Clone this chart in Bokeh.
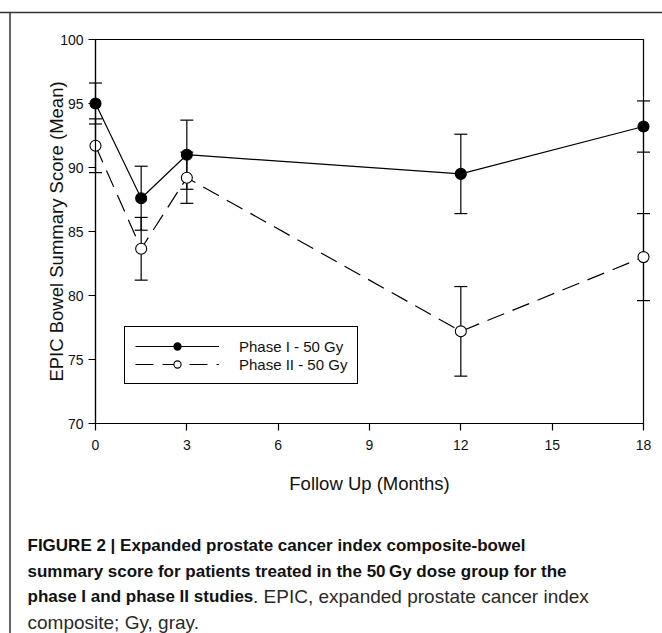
from bokeh.plotting import figure
from bokeh.models import (ColumnDataSource, Whisker, TeeHead, Legend, LegendItem,
                          Label, Arrow, FixedTicker, CustomJS)
from bokeh.document import Document
from bokeh.embed import file_html
from bokeh.resources import INLINE

# ---- data ----
months = [0, 1.5, 3, 12, 18]
phase1_mean = [95.0, 87.6, 91.0, 89.5, 93.2]
phase1_err = [1.6, 2.5, 2.7, 3.1, 2.0]
phase2_mean = [91.7, 83.65, 89.2, 77.2, 83.0]
phase2_err = [2.1, 2.45, 2.0, 3.5, 3.4]
x_ticks = [0, 3, 6, 9, 12, 15, 18]
y_ticks = [70, 75, 80, 85, 90, 95, 100]
series_names = ["Phase I - 50 Gy", "Phase II - 50 Gy"]
x_label = "Follow Up (Months)"
y_label = "EPIC Bowel Summary Score (Mean)"
caption_bold = ["FIGURE 2 | Expanded prostate cancer index composite-bowel",
                "summary score for patients treated in the 50\u2009Gy dose group for the",
                "phase I and phase II studies"]
caption_rest = [". EPIC, expanded prostate cancer index", "composite; Gy, gray."]

FONT = "Liberation Sans"
X0, X1, Y0, Y1 = 0, 18, 70, 100
FRAME_W, FRAME_H = 548, 384
BL, BR, BT, BB = 95, 19, 39, 210

p = figure(width=BL + FRAME_W + BR, height=BT + FRAME_H + BB,
           x_range=(X0, X1), y_range=(Y0, Y1),
           output_backend="svg", toolbar_location=None,
           min_border_left=BL, min_border_right=BR, min_border_top=BT, min_border_bottom=BB)
p.xgrid.visible = False
p.ygrid.visible = False
p.outline_line_color = "black"
p.outline_line_width = 1.2
p.outline_line_alpha = 1.0

# screen offsets (px, from the frame's bottom-left corner) -> data units
def dx(px):
    return X0 + px * (X1 - X0) / FRAME_W
def dy(px):
    return Y0 + px * (Y1 - Y0) / FRAME_H

for ax, ticks in ((p.xaxis[0], x_ticks), (p.yaxis[0], y_ticks)):
    ax.ticker = FixedTicker(ticks=ticks)
    ax.major_tick_in = 0
    ax.major_tick_out = 7
    ax.minor_tick_in = 0
    ax.minor_tick_out = 0
    ax.axis_line_width = 1.2
    ax.axis_line_color = "black"
    ax.major_tick_line_color = "black"
    ax.major_tick_line_width = 1.2
    ax.major_label_text_font = FONT
    ax.major_label_text_font_size = "14px"
    ax.major_label_text_color = "#111111"
    ax.axis_label_text_font = FONT
    ax.axis_label_text_font_size = "18.5px"
    ax.axis_label_text_font_style = "normal"
    ax.axis_label_text_color = "#111111"

p.xaxis.axis_label = x_label
p.yaxis.axis_label = y_label
p.xaxis.major_label_standoff = 9
p.xaxis.axis_label_standoff = 20
p.yaxis.major_label_standoff = 5
p.yaxis.axis_label_standoff = -10

src1 = ColumnDataSource(dict(x=months, y=phase1_mean,
                             lo=[m - e for m, e in zip(phase1_mean, phase1_err)],
                             hi=[m + e for m, e in zip(phase1_mean, phase1_err)]))
src2 = ColumnDataSource(dict(x=months, y=phase2_mean,
                             lo=[m - e for m, e in zip(phase2_mean, phase2_err)],
                             hi=[m + e for m, e in zip(phase2_mean, phase2_err)]))

for src in (src2, src1):
    w = Whisker(source=src, base="x", lower="lo", upper="hi",
                line_color="black", line_width=1.2, level="underlay",
                upper_head=TeeHead(size=13, line_width=1.2, line_color="black"),
                lower_head=TeeHead(size=13, line_width=1.2, line_color="black"))
    p.add_layout(w)

l2 = p.line("x", "y", source=src2, line_color="black", line_width=1.2, line_dash="18 9")
l1 = p.line("x", "y", source=src1, line_color="black", line_width=1.2)
m2 = p.scatter("x", "y", source=src2, size=11, marker="circle",
               fill_color="white", line_color="black", line_width=1.1)
m1 = p.scatter("x", "y", source=src1, size=11, marker="circle",
               fill_color="black", line_color="black", line_width=1.1)

legend = Legend(items=[LegendItem(label=series_names[0], renderers=[l1, m1]),
                       LegendItem(label=series_names[1], renderers=[l2, m2])],
                location=(29, 39), padding=10, spacing=0, margin=0,
                glyph_width=84, glyph_height=18, label_height=18, label_standoff=20,
                label_text_font=FONT, label_text_font_size="15px", label_text_color="#111111",
                border_line_color="black", border_line_width=1.2, border_line_alpha=1.0,
                background_fill_color="white", background_fill_alpha=1.0)
p.add_layout(legend, "center")

# ---- figure frame lines (top and left) ----
top_y = dy(411)
left_x = dx(-85.5)
p.add_layout(Arrow(x_start=dx(-100), y_start=top_y, x_end=dx(580), y_end=top_y, end=None,
                   line_color="#333333", line_width=1.5))
p.add_layout(Arrow(x_start=left_x, y_start=top_y, x_end=left_x, y_end=dy(-230), end=None,
                   line_color="#333333", line_width=1.5))

# ---- caption ----
cap_x = dx(-68)
base_ys = [dy(-122), dy(-147.5), dy(-173), dy(-198.5)]
for i, t in enumerate(caption_bold):
    p.add_layout(Label(x=cap_x, y=base_ys[i], text=t,
                       text_font=FONT, text_font_size="17px", text_font_style="bold",
                       text_color="#111111", text_baseline="alphabetic"))
p.add_layout(Label(x=dx(-68 + 225.5), y=base_ys[2], text=caption_rest[0],
                   text_font=FONT, text_font_size="19px",
                   text_color="#2a2a2a", text_baseline="alphabetic"))
p.add_layout(Label(x=cap_x, y=base_ys[3], text=caption_rest[1],
                   text_font=FONT, text_font_size="19px",
                   text_color="#2a2a2a", text_baseline="alphabetic"))

# everything outside the plotting frame (caption, frame lines, half-markers on the
# axes) is clipped by default; lift the clip paths once the SVG is drawn
unclip = CustomJS(code="""
const seen = new WeakSet();
function strip(root) {
  if (!seen.has(root)) {
    seen.add(root);
    try {
      new MutationObserver(() => strip(root)).observe(root,
        {subtree: true, childList: true, attributes: true, attributeFilter: ['clip-path']});
    } catch (e) {}
  }
  for (const el of root.querySelectorAll('*')) {
    if (el.shadowRoot) strip(el.shadowRoot);
    if (el.hasAttribute && el.hasAttribute('clip-path')) el.removeAttribute('clip-path');
  }
}
function run() { try { strip(document); } catch (e) {} }
run();
for (const t of [10, 50, 150, 400, 800, 1500, 3000]) setTimeout(run, t);
""")

doc = Document()
doc.add_root(p)
doc.js_on_event("document_ready", unclip)

open("out.html", "w").write(file_html(p, INLINE))
